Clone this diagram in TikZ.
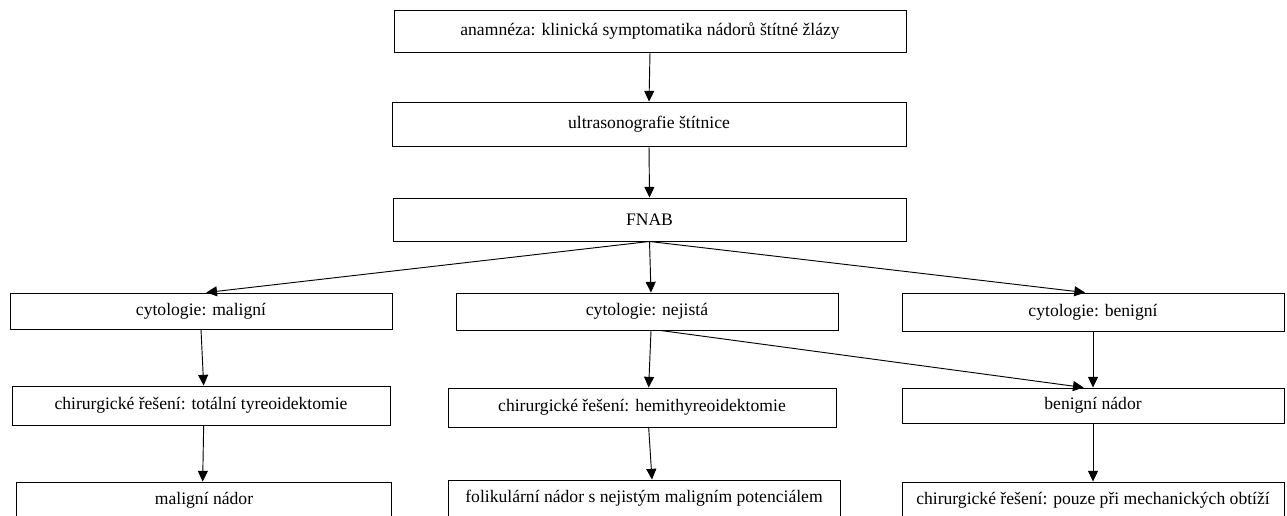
\documentclass[tikz,border=0pt]{standalone}
\usepackage{fontspec}
\setmainfont{Liberation Serif}
\usetikzlibrary{arrows.meta}
\begin{document}
\begin{tikzpicture}[x=0.75pt,y=-0.75pt,
  box/.style={draw=black,line width=0.7pt,fill=white,inner sep=0pt,
    font=\fontsize{13.2}{15}\selectfont,text=black},
  link/.style={draw=black,line width=0.7pt,
    -{Triangle[length=8pt,width=7.5pt]}}]
\clip (0,0) rectangle (1287,516);
\fill[white] (0,0) rectangle (1287,516);
% upper chain
\node[box,minimum width=512*0.75pt,minimum height=42*0.75pt] (anam) at (650,31)
  {anamnéza: klinická symptomatika nádorů štítné žlázy};
\node[box,minimum width=514*0.75pt,minimum height=44*0.75pt] (usg) at (649,124)
  {ultrasonografie štítnice};
\node[box,minimum width=513*0.75pt,minimum height=43*0.75pt] (fnab) at (649.5,219.5)
  {FNAB};
% cytology results
\node[box,minimum width=382*0.75pt,minimum height=36*0.75pt] (cmal) at (201,311)
  {cytologie: maligní};
\node[box,minimum width=382*0.75pt,minimum height=37*0.75pt] (cnej) at (647,311.5)
  {cytologie: nejistá};
\node[box,minimum width=382*0.75pt,minimum height=38*0.75pt] (cben) at (1093,312)
  {cytologie: benigní};
% second level
\node[box,minimum width=378*0.75pt,minimum height=39*0.75pt] (tot) at (201,405.5)
  {chirurgické řešení: totální tyreoidektomie};
\node[box,minimum width=388*0.75pt,minimum height=39*0.75pt] (hemi) at (642,407.5)
  {chirurgické řešení: hemithyreoidektomie};
\node[box,minimum width=382*0.75pt,minimum height=35*0.75pt] (bnad) at (1093,405.5)
  {benigní nádor};
% outcomes
\node[box,minimum width=375*0.75pt,minimum height=36*0.75pt] (mnad) at (204,500)
  {maligní nádor};
\node[box,minimum width=392*0.75pt,minimum height=36*0.75pt] (foli) at (644,498)
  {folikulární nádor s nejistým maligním potenciálem};
\node[box,minimum width=382*0.75pt,minimum height=36*0.75pt] (pouze) at (1093,500)
  {chirurgické řešení: pouze při mechanických obtíží};
% connectors
\draw[link] (anam.south) -- (usg.north);
\draw[link] (usg.south) -- (fnab.north);
\draw[link] (fnab.south) -- ([xshift=4]cmal.north);
\draw[link] (fnab.south) -- ([xshift=3]cnej.north);
\draw[link] (fnab.south) -- ([xshift=-6]cben.north);
\draw[link] (cmal.south) -- ([xshift=2]tot.north);
\draw[link] ([xshift=3]cnej.south) -- ([xshift=5]hemi.north);
\draw[link] ([xshift=10]cnej.south) -- ([xshift=-7]bnad.north);
\draw[link] (cben.south) -- (bnad.north);
\draw[link] ([xshift=2]tot.south) -- ([xshift=-1]mnad.north);
\draw[link] ([xshift=5]hemi.south) -- ([xshift=6]foli.north);
\draw[link] (bnad.south) -- (pouze.north);
\end{tikzpicture}
\end{document}
